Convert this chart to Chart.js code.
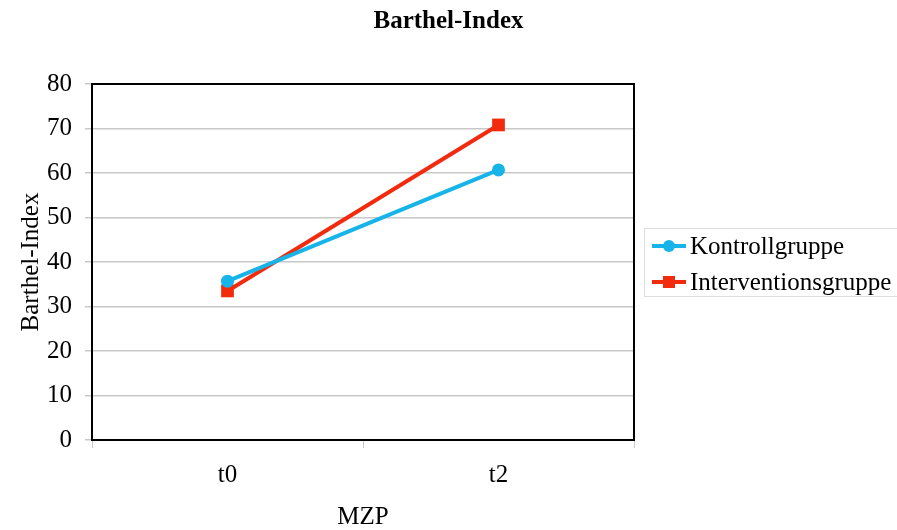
<!DOCTYPE html>
<html>
<head>
<meta charset="utf-8">
<script src="https://cdn.jsdelivr.net/npm/chart.js@4/dist/chart.umd.min.js"></script>
<style>
  html, body { margin: 0; padding: 0; background: #fff; }
  #wrap { width: 897px; height: 530px; }
</style>
</head>
<body>
<div id="wrap"><canvas id="c" width="897" height="530"></canvas></div>
<script>
// Measurement points and group means
const categories = ['t0', 't2'];
const kontrollgruppe = [35.7, 60.7];
const interventionsgruppe = [33.5, 70.8];
const yTicks = [0, 10, 20, 30, 40, 50, 60, 70, 80];

const BLUE = '#17b4e9';
const RED = '#f22b0f';
const SERIF = '"Liberation Serif", "Times New Roman", serif';

// Black frame around the plot area, plus the series key to its right
const framePlugin = {
  id: 'frame',
  afterDraw(chart) {
    const { ctx, chartArea: a } = chart;
    ctx.save();
    ctx.strokeStyle = '#000';
    ctx.lineWidth = 2;
    ctx.strokeRect(a.left, a.top, a.right - a.left, a.bottom - a.top);

    // key box
    const bx = a.right + 10, by = 228, bw = 270, bh = 68;
    ctx.strokeStyle = '#dedede';
    ctx.lineWidth = 1;
    ctx.strokeRect(bx + 0.5, by + 0.5, bw, bh);

    ctx.font = '25px ' + SERIF;
    ctx.textBaseline = 'middle';
    ctx.textAlign = 'left';
    chart.data.datasets.forEach((ds, i) => {
      const cy = by + 18 + i * 36;
      const x0 = bx + 8, x1 = x0 + 34, cx = (x0 + x1) / 2;
      ctx.strokeStyle = ds.borderColor;
      ctx.lineWidth = 4;
      ctx.beginPath(); ctx.moveTo(x0, cy); ctx.lineTo(x1, cy); ctx.stroke();
      ctx.fillStyle = ds.borderColor;
      if (ds.pointStyle === 'circle') {
        ctx.beginPath(); ctx.arc(cx, cy, 6, 0, Math.PI * 2); ctx.fill();
      } else {
        ctx.fillRect(cx - 6, cy - 6, 12, 12);
      }
      ctx.fillStyle = '#000';
      ctx.fillText(ds.label, x1 + 4, cy + 1);
    });
    ctx.restore();
  }
};

new Chart(document.getElementById('c'), {
  type: 'line',
  data: {
    labels: categories,
    datasets: [
      {
        label: 'Kontrollgruppe',
        data: kontrollgruppe,
        borderColor: BLUE,
        backgroundColor: BLUE,
        borderWidth: 4,
        pointStyle: 'circle',
        pointRadius: 6.5,
        pointBorderWidth: 0
      },
      {
        label: 'Interventionsgruppe',
        data: interventionsgruppe,
        borderColor: RED,
        backgroundColor: RED,
        borderWidth: 4,
        pointStyle: 'rect',
        pointRadius: 9,
        pointBorderWidth: 0
      }
    ]
  },
  options: {
    responsive: false,
    animation: false,
    layout: { padding: 0 },
    plugins: {
      title: {
        display: true,
        text: 'Barthel-Index',
        color: '#000',
        font: { family: SERIF, size: 25, weight: 'bold', lineHeight: 1.2 },
        padding: { top: 7, bottom: 47 }
      },
      legend: { display: false },
      tooltip: { enabled: false }
    },
    scales: {
      x: {
        offset: true,
        grid: { offset: true, drawOnChartArea: false, drawTicks: true, tickLength: 8, color: '#c8c8c8' },
        border: { display: false },
        ticks: { color: '#000', font: { family: SERIF, size: 25 }, padding: 12 },
        title: { display: true, text: 'MZP', color: '#000', font: { family: SERIF, size: 25, lineHeight: 1 }, padding: { top: 15, bottom: 0 } },
        afterFit(axis) { axis.height = 90; }
      },
      y: {
        min: 0,
        max: 80,
        afterBuildTicks(axis) { axis.ticks = yTicks.map(v => ({ value: v })); },
        grid: { color: '#c8c8c8', lineWidth: 1.5, tickLength: 7 },
        border: { display: false },
        ticks: { color: '#000', font: { family: SERIF, size: 25 }, padding: 13 },
        title: { display: true, text: 'Barthel-Index', color: '#000', font: { family: SERIF, size: 25, lineHeight: 1 }, padding: { top: 19, bottom: 3 } },
        afterFit(axis) { axis.width = 92; }
      },
      // empty right-hand axis that keeps room for the series key
      key: {
        position: 'right',
        axis: 'y',
        display: true,
        grid: { display: false },
        border: { display: false },
        ticks: { display: false },
        afterFit(axis) { axis.width = 263; }
      }
    }
  },
  plugins: [framePlugin]
});
</script>
</body>
</html>
